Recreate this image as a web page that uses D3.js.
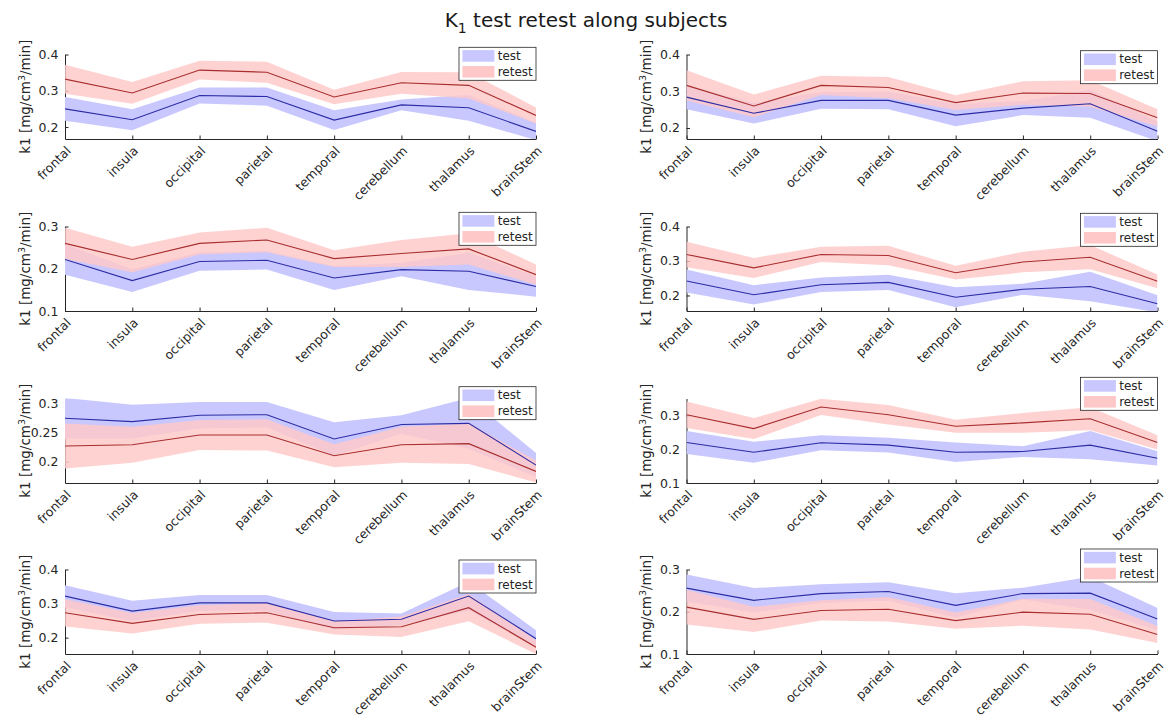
<!DOCTYPE html>
<html>
<head>
<meta charset="utf-8">
<script src="https://cdn.jsdelivr.net/npm/d3@7"></script>
<style>
  body { margin: 0; background: #fff; }
  svg { display: block; }
  text { font-family: "DejaVu Sans", sans-serif; }
</style>
</head>
<body>
<svg id="chart" width="1172" height="719"></svg>
<script>
// Brain regions on the x axis
const regions = ["frontal", "insula", "occipital", "parietal", "temporal", "cerebellum", "thalamus", "brainStem"];

// K1 mean and SD per subject (row-major, 4x2 grid), test session
const testMean = [
  [0.250, 0.220, 0.287, 0.284, 0.219, 0.261, 0.253, 0.188],
  [0.284, 0.240, 0.275, 0.275, 0.235, 0.254, 0.266, 0.191],
  [0.222, 0.172, 0.217, 0.220, 0.178, 0.198, 0.194, 0.158],
  [0.242, 0.202, 0.231, 0.238, 0.195, 0.218, 0.226, 0.176],
  [0.275, 0.269, 0.280, 0.281, 0.239, 0.264, 0.266, 0.194],
  [0.220, 0.191, 0.219, 0.212, 0.191, 0.193, 0.212, 0.173],
  [0.322, 0.278, 0.302, 0.302, 0.249, 0.254, 0.322, 0.197],
  [0.256, 0.227, 0.243, 0.248, 0.215, 0.243, 0.244, 0.183]
];
const testSd = [
  [0.033, 0.029, 0.022, 0.025, 0.027, 0.015, 0.036, 0.024],
  [0.033, 0.028, 0.023, 0.024, 0.030, 0.019, 0.038, 0.027],
  [0.036, 0.027, 0.022, 0.022, 0.028, 0.016, 0.044, 0.024],
  [0.033, 0.028, 0.021, 0.022, 0.029, 0.016, 0.043, 0.025],
  [0.035, 0.029, 0.023, 0.022, 0.029, 0.016, 0.044, 0.021],
  [0.034, 0.031, 0.022, 0.022, 0.029, 0.016, 0.042, 0.021],
  [0.032, 0.030, 0.023, 0.023, 0.026, 0.017, 0.042, 0.025],
  [0.032, 0.029, 0.022, 0.022, 0.029, 0.014, 0.039, 0.026]
];

// K1 mean and SD per subject, retest session
const retestMean = [
  [0.332, 0.294, 0.357, 0.351, 0.283, 0.322, 0.315, 0.232],
  [0.316, 0.260, 0.316, 0.310, 0.269, 0.295, 0.294, 0.228],
  [0.260, 0.222, 0.260, 0.268, 0.224, 0.236, 0.247, 0.186],
  [0.319, 0.280, 0.319, 0.316, 0.266, 0.297, 0.311, 0.241],
  [0.227, 0.229, 0.246, 0.246, 0.210, 0.229, 0.231, 0.183],
  [0.302, 0.261, 0.325, 0.302, 0.268, 0.278, 0.290, 0.220],
  [0.273, 0.242, 0.268, 0.273, 0.229, 0.232, 0.288, 0.172],
  [0.211, 0.182, 0.203, 0.206, 0.179, 0.199, 0.194, 0.146]
];
const retestSd = [
  [0.040, 0.030, 0.026, 0.029, 0.020, 0.030, 0.036, 0.022],
  [0.041, 0.031, 0.026, 0.029, 0.020, 0.032, 0.036, 0.023],
  [0.037, 0.030, 0.026, 0.029, 0.020, 0.032, 0.037, 0.024],
  [0.037, 0.029, 0.022, 0.028, 0.020, 0.030, 0.035, 0.020],
  [0.039, 0.031, 0.026, 0.027, 0.020, 0.031, 0.035, 0.019],
  [0.039, 0.031, 0.024, 0.029, 0.019, 0.029, 0.034, 0.021],
  [0.040, 0.030, 0.027, 0.029, 0.020, 0.030, 0.040, 0.020],
  [0.041, 0.030, 0.024, 0.029, 0.019, 0.032, 0.036, 0.020]
];

// Y limits and tick values of each subplot
const yLimits = [
  [0.167, 0.4], [0.17, 0.4],
  [0.1, 0.3],   [0.155, 0.4],
  [0.163, 0.309], [0.1, 0.35],
  [0.152, 0.4], [0.1, 0.3]
];
const yTickValues = [
  [0.2, 0.3, 0.4], [0.2, 0.3, 0.4],
  [0.1, 0.2, 0.3], [0.2, 0.3, 0.4],
  [0.2, 0.25, 0.3], [0.1, 0.2, 0.3],
  [0.2, 0.3, 0.4], [0.1, 0.2, 0.3]
];

const seriesNames = ["test", "retest"];

// ---- layout ----
const W = 1172, H = 719;
const colLeft = [65, 686.5];
const plotW = 471;
const rowTop = [54.5, 226.5, 398.5, 569.5];
const plotH = 84.5;
const legendOffsetY = [-7.2, -3.8, -14.2, -13.2, -11.8, -21.2, -9.5, -20.5];

const axisColor = "#262626";
const bandColor = ["#c8c8ff", "#ffc8c8"];
const bandOpacity = [1, 0.82];
const lineColor = ["#2c2ca4", "#a82e2e"];

const svg = d3.select("#chart");
svg.append("rect").attr("width", W).attr("height", H).attr("fill", "#fff");

// Figure title with subscript
const title = svg.append("text")
  .attr("x", 586).attr("y", 27)
  .attr("text-anchor", "middle")
  .attr("font-size", 20)
  .attr("fill", "#1a1a1a");
title.append("tspan").text("K");
title.append("tspan").attr("font-size", 14).attr("dy", 6).text("1");
title.append("tspan").attr("dy", -6).text(" test retest along subjects");

const defs = svg.append("defs");

testMean.forEach((_, i) => {
  const col = i % 2, row = Math.floor(i / 2);
  const x0 = colLeft[col], y0 = rowTop[row];

  const x = d3.scalePoint().domain(regions).range([0, plotW]);
  const y = d3.scaleLinear().domain(yLimits[i]).range([plotH, 0]);

  const g = svg.append("g").attr("transform", `translate(${x0},${y0})`);

  // Axes (drawn underneath the data, inward ticks)
  const xAxis = g.append("g")
    .attr("transform", `translate(0,${plotH})`)
    .call(d3.axisBottom(x).tickSizeInner(-3.5).tickSizeOuter(0));
  xAxis.selectAll("text")
    .attr("x", 0).attr("y", 0).attr("dy", "0.35em")
    .attr("text-anchor", "end")
    .attr("transform", "translate(3,9.5) rotate(-45)");

  const yAxis = g.append("g")
    .call(d3.axisLeft(y).tickValues(yTickValues[i]).tickSizeInner(-3.5).tickSizeOuter(0)
      .tickPadding(6.5).tickFormat(d => String(d)));

  [xAxis, yAxis].forEach(a => {
    a.select(".domain").attr("stroke", axisColor).attr("stroke-width", 1);
    a.selectAll(".tick line").attr("stroke", axisColor).attr("stroke-width", 1);
    a.selectAll("text").attr("fill", axisColor).attr("font-size", 12.5)
      .attr("font-family", '"DejaVu Sans", sans-serif');
  });

  // Y axis label with superscript
  const yl = g.append("text")
    .attr("transform", `translate(-35.5,${plotH / 2}) rotate(-90)`)
    .attr("text-anchor", "middle")
    .attr("font-size", 13.5)
    .attr("fill", axisColor);
  yl.append("tspan").text("k1 [mg/cm");
  yl.append("tspan").attr("font-size", 9.5).attr("dy", -5).text("3");
  yl.append("tspan").attr("dy", 5).text("/min]");

  // Clip region of the plot box
  const clipId = `clip-${i}`;
  defs.append("clipPath").attr("id", clipId)
    .append("rect").attr("x", 0).attr("y", 0).attr("width", plotW).attr("height", plotH);

  const plot = g.append("g").attr("clip-path", `url(#${clipId})`);

  const series = [
    regions.map((r, k) => ({ r, m: testMean[i][k], s: testSd[i][k] })),
    regions.map((r, k) => ({ r, m: retestMean[i][k], s: retestSd[i][k] }))
  ];

  const area = d3.area()
    .x(d => x(d.r))
    .y0(d => y(d.m - d.s))
    .y1(d => y(d.m + d.s));
  const line = d3.line()
    .x(d => x(d.r))
    .y(d => y(d.m));

  // Shaded SD bands first, then the mean lines on top
  series.forEach((s, k) => {
    plot.append("path").datum(s)
      .attr("d", area)
      .attr("fill", bandColor[k])
      .attr("fill-opacity", bandOpacity[k])
      .attr("stroke", "none");
  });
  series.forEach((s, k) => {
    plot.append("path").datum(s)
      .attr("d", line)
      .attr("fill", "none")
      .attr("stroke", lineColor[k])
      .attr("stroke-width", 1.1);
  });

  // Legend box
  const lg = g.append("g")
    .attr("transform", `translate(${plotW - 77},${legendOffsetY[i]})`);
  lg.append("rect")
    .attr("width", 77).attr("height", 33)
    .attr("fill", "#fff")
    .attr("stroke", axisColor).attr("stroke-width", 0.8);
  seriesNames.forEach((name, k) => {
    lg.append("rect")
      .attr("x", 3.4).attr("y", 2.8 + k * 15.9)
      .attr("width", 32).attr("height", 11.6)
      .attr("fill", bandColor[k]);
    lg.append("text")
      .attr("x", 38.7).attr("y", 8.6 + k * 15.9)
      .attr("dy", "0.35em")
      .attr("font-size", 12)
      .attr("fill", axisColor)
      .text(name);
  });
});
</script>
</body>
</html>
